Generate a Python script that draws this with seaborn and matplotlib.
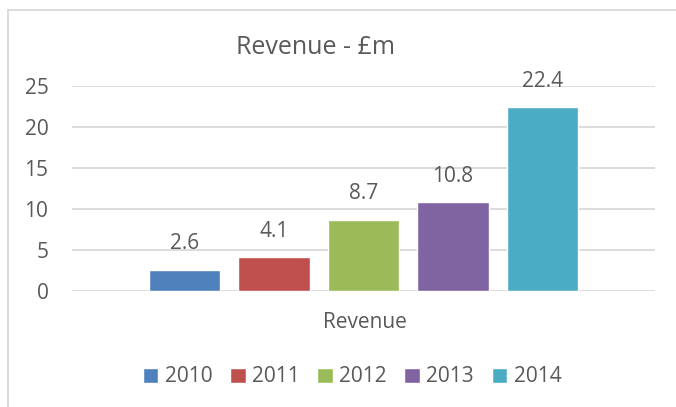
import pandas as pd
import seaborn as sns
import matplotlib.pyplot as plt
from matplotlib.lines import Line2D

years = ["2010", "2011", "2012", "2013", "2014"]
revenue = [2.6, 4.1, 8.7, 10.8, 22.4]
category = "Revenue"
colors = ["#4F81BD", "#C0504D", "#9BBB59", "#8064A2", "#4BACC6"]
yticks = [0, 5, 10, 15, 20, 25]

df = pd.DataFrame({"cat": [category] * len(years), "year": years, "value": revenue})

sns.set_theme(style="white")
plt.rcParams["font.family"] = ["Open Sans", "DejaVu Sans"]
grey = "#595959"

fig = plt.figure(figsize=(6.76, 4.07), dpi=100)
ax = fig.add_axes([72 / 676, 1 - 291 / 407, (655 - 72) / 676, (291 - 86) / 407])

sns.barplot(data=df, x="cat", y="value", hue="year", palette=colors,
            width=0.768, gap=0.2, ax=ax, legend=True, saturation=1)

for c in ax.containers:
    ax.bar_label(c, fmt="%.1f", padding=11, fontsize=15, color=grey)

ax.set_ylim(0, 25)
ax.set_xlim(-0.5, 0.5)
ax.set_yticks(yticks)
ax.yaxis.grid(True, color="#D9D9D9", lw=1.3)
ax.set_axisbelow(True)
for s in ax.spines.values():
    s.set_visible(False)
ax.tick_params(axis="y", length=0, pad=17, labelsize=15, labelcolor=grey)
ax.tick_params(axis="x", length=0, pad=0)
ax.set_xticklabels([])
ax.set_ylabel("")
ax.set_xlabel("")

fig.text(365 / 676, 1 - 323 / 407, category, ha="center", va="center",
         fontsize=15, color=grey)
fig.text(315 / 676, 1 - 47 / 407, "Revenue - £m", ha="center", va="center",
         fontsize=18, color=grey)

ax.get_legend().remove()
fig.legend(*ax.get_legend_handles_labels(), loc="center", ncol=5,
           bbox_to_anchor=(352 / 676, 1 - 377 / 407), frameon=False,
           handlelength=0.75, handleheight=0.75, handletextpad=0.3,
           columnspacing=0.85, fontsize=15, labelcolor=grey)

# chart border
bx, by = 8 / 676, 1 - 10 / 407
fig.add_artist(Line2D([bx, bx], [0, by], color="#D9D9D9", lw=1.3))
fig.add_artist(Line2D([bx, 1], [by, by], color="#D9D9D9", lw=1.3))

plt.savefig("out.png", dpi=100)
